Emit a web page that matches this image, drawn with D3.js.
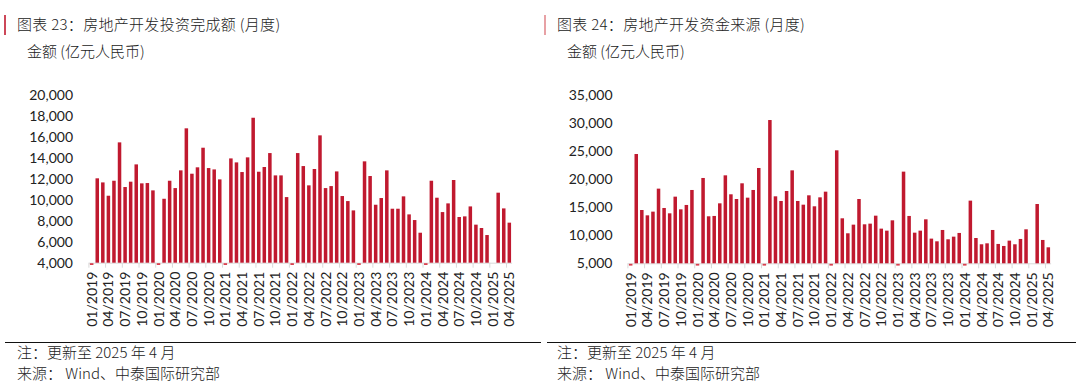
<!DOCTYPE html>
<html>
<head>
<meta charset="utf-8">
<script src="https://cdn.jsdelivr.net/npm/d3@7"></script>
<style>
  body { margin: 0; background: #fff; }
  svg { display: block; }
  text { fill: #222; }
  .cn { font-family: "Noto Sans CJK SC", "Noto Sans", sans-serif; font-weight: 300; }
  .num { font-family: Lato, "Noto Sans", sans-serif; }
</style>
</head>
<body>
<svg id="chart" width="1090" height="387"></svg>
<script>
// monthly categories 01/2019 .. 04/2025
const years = [2019, 2020, 2021, 2022, 2023, 2024, 2025];
const months = [];
years.forEach(y => {
    for (let m = 1; m <= 12; m++) {
        if (y === 2025 && m > 4) break;
        months.push(String(m).padStart(2, '0') + '/' + y);
    }
});
// every third month gets a label
const tickLabels = months.filter((d, i) => i % 3 === 0);

// 房地产开发投资完成额, 亿元 (Jan = 0, Jan 2025 missing)
const investment = [
    0, 12050, 11660, 10390, 11820, 15480, 11220, 11730, 13380, 11570, 11600, 10900,
    0, 10100, 11820, 11120, 12810, 16820, 12490, 13100, 14970, 13030, 12900, 11950,
    0, 13950, 13570, 12650, 14050, 17830, 12680, 13130, 14460, 12330, 12330, 10260,
    0, 14460, 13220, 11380, 12940, 16150, 11120, 11310, 12710, 10360, 9880, 8990,
    0, 13670, 12270, 9530, 10170, 12810, 9150, 9150, 10330, 8610, 8070, 6860,
    0, 11820, 10200, 8830, 9660, 11890, 8360, 8420, 9370, 7630, 7310, 6640,
    null, 10680, 9180, 7820
];

// 房地产开发资金来源, 亿元
const funding = [
    0, 24480, 14500, 13550, 14210, 18310, 14860, 13910, 16880, 14620, 15400, 18070,
    0, 20210, 13380, 13440, 15690, 20680, 17300, 16460, 19260, 16700, 18070, 21990,
    0, 30540, 16940, 16110, 17890, 21570, 16110, 15450, 17120, 15160, 16760, 17770,
    0, 25140, 13020, 10350, 11890, 16460, 11950, 12070, 13490, 11180, 10820, 12660,
    0, 21340, 13440, 10460, 10820, 12840, 9400, 8920, 10940, 9280, 9750, 10410,
    0, 16170, 9510, 8390, 8560, 10940, 8450, 8090, 9040, 8390, 9340, 11060,
    null, 15570, 9160, 7850
];

const investTicks = [4000, 6000, 8000, 10000, 12000, 14000, 16000, 18000, 20000];
const fundTicks = [5000, 10000, 15000, 20000, 25000, 30000, 35000];

const barColor = '#c0192f';
const svg = d3.select('#chart');

function drawPanel(opt) {
    const g = svg.append('g');

    // red accent + title
    g.append('line')
        .attr('x1', opt.accentX).attr('x2', opt.accentX)
        .attr('y1', 15).attr('y2', 35)
        .attr('stroke', opt.accentColor).attr('stroke-width', 1.6);
    g.append('text').attr('class', 'cn')
        .attr('x', opt.titleX).attr('y', 30)
        .style('font-size', '15px')
        .style('letter-spacing', '0.3px')
        .text(opt.title);
    g.append('text').attr('class', 'cn')
        .attr('x', opt.titleX + 10).attr('y', 57)
        .style('font-size', '15px')
        .text('金额 (亿元人民币)');

    const x = d3.scaleBand()
        .domain(months)
        .range(opt.xRange)
        .paddingInner(0.37)
        .paddingOuter(0.185);
    const y = d3.scaleLinear()
        .domain(d3.extent(opt.ticks))
        .range([opt.yBottom, 95]);

    // y labels
    const yAxis = g.append('g')
        .attr('transform', `translate(${opt.yLabelX},0)`)
        .call(d3.axisLeft(y).tickValues(opt.ticks).tickSize(0).tickPadding(0)
            .tickFormat(d3.format(',')));
    yAxis.select('.domain').remove();
    yAxis.selectAll('text')
        .attr('class', 'num')
        .style('font-size', '14px')
        .attr('fill', '#222');

    // baseline + boundary ticks every 3 months
    const base = y(opt.ticks[0]);
    const step = x.step();
    const left = opt.xRange[0];
    g.append('line')
        .attr('x1', opt.xRange[0]).attr('x2', opt.xRange[1])
        .attr('y1', base + 0.5).attr('y2', base + 0.5)
        .attr('stroke', '#d9d9d9').attr('stroke-width', 1);
    g.selectAll('line.tk')
        .data(months.map((m, i) => i).filter(i => i % 3 === 0))
        .join('line')
        .attr('class', 'tk')
        .attr('x1', i => left + i * step).attr('x2', i => left + i * step)
        .attr('y1', base).attr('y2', base + 5)
        .attr('stroke', '#d9d9d9').attr('stroke-width', 1);

    // bars (zero months show as a small dash under the baseline)
    g.selectAll('rect.bar')
        .data(months.map((m, i) => ({m, v: opt.values[i]})).filter(d => d.v !== null))
        .join('rect')
        .attr('class', 'bar')
        .attr('x', d => x(d.m))
        .attr('width', x.bandwidth())
        .attr('y', d => d.v > opt.ticks[0] ? y(d.v) : base + 0.5)
        .attr('height', d => d.v > opt.ticks[0] ? base - y(d.v) : 1.8)
        .attr('fill', d => d.v > opt.ticks[0] ? barColor : '#d8404f');

    // x labels, rotated
    const xAxis = g.append('g')
        .attr('transform', `translate(0,${base + 9})`)
        .call(d3.axisBottom(x).tickValues(tickLabels).tickSize(0).tickPadding(0));
    xAxis.select('.domain').remove();
    xAxis.selectAll('text')
        .attr('class', 'num')
        .style('font-size', '14px')
        .attr('fill', '#222')
        .attr('text-anchor', 'end')
        .attr('transform', 'rotate(-90)')
        .attr('x', 0)
        .attr('y', 0)
        .attr('dy', '0.36em');

    // footer
    g.append('line')
        .attr('x1', opt.sepRange[0]).attr('x2', opt.sepRange[1])
        .attr('y1', 342.5).attr('y2', 342.5)
        .attr('stroke', '#111').attr('stroke-width', 1.2);
    g.append('text').attr('class', 'cn')
        .attr('x', opt.titleX).attr('y', 358)
        .style('font-size', '15px')
        .text('注：更新至 2025 年 4 月');
    g.append('text').attr('class', 'cn')
        .attr('x', opt.titleX).attr('y', 379)
        .style('font-size', '15px')
        .text('来源：  Wind、中泰国际研究部');
}

drawPanel({
    title: '图表 23：房地产开发投资完成额 (月度)',
    values: investment,
    ticks: investTicks,
    accentX: 5, accentColor: '#c0192f',
    titleX: 17,
    xRange: [88.9, 512.1],
    yBottom: 262.7,
    yLabelX: 73,
    sepRange: [5, 541]
});

drawPanel({
    title: '图表 24：房地产开发资金来源  (月度)',
    values: funding,
    ticks: fundTicks,
    accentX: 545, accentColor: '#e28a8f',
    titleX: 557,
    xRange: [627.9, 1051.1],
    yBottom: 263.3,
    yLabelX: 612.5,
    sepRange: [547, 1076]
});
</script>
</body>
</html>
